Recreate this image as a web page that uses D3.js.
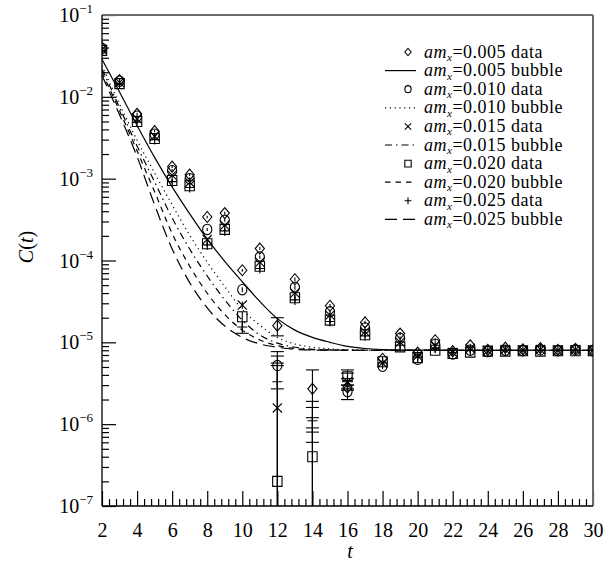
<!DOCTYPE html>
<html><head><meta charset="utf-8">
<script src="https://cdn.jsdelivr.net/npm/d3@7"></script>
<style>
body{margin:0;background:#fff}
svg, svg text{font-family:"Liberation Serif","Times New Roman",Times,serif;}
text{fill:#000}
</style>
</head><body>
<svg id="c" width="613" height="562"></svg>
<script>
// ---------- DATA ----------
const tData = [2,3,4,5,6,7,8,9,10,11,12,13,14,15,16,17,18,19,20,21,22,23,24,25,26,27,28,29,30];
const amLabels = ["0.005","0.010","0.015","0.020","0.025"];

const data005 = [4.0e-2,1.60e-2,6.2e-3,3.8e-3,1.40e-3,1.12e-3,3.4e-4,3.8e-4,7.6e-5,1.40e-4,1.6e-5,5.9e-5,2.7e-6,2.8e-5,2.8e-6,1.75e-5,6.3e-6,1.28e-5,7.5e-6,1.06e-5,7.8e-6,9.2e-6,8.1e-6,8.6e-6,8.2e-6,8.5e-6,8.1e-6,8.3e-6,8.0e-6];
const err005  = [1.2e-3,5e-4,2e-4,1.2e-4,5e-5,4e-5,1.2e-5,1.4e-5,3e-6,6e-6,4e-6,3e-6,1.9e-6,1.5e-6,8e-7,8e-7,4e-7,6e-7,4e-7,5e-7,3e-7,4e-7,3e-7,3e-7,2e-7,2e-7,2e-7,2e-7,2e-7];
const data010 = [3.9e-2,1.55e-2,5.8e-3,3.5e-3,1.25e-3,1.00e-3,2.4e-4,3.1e-4,4.4e-5,1.10e-4,5.2e-6,4.7e-5,-5e-7,2.36e-5,2.5e-6,1.5e-5,5.1e-6,1.12e-5,6.2e-6,9.5e-6,7.2e-6,8.0e-6,7.7e-6,8.0e-6,7.9e-6,8.1e-6,7.9e-6,8.1e-6,7.9e-6];
const err010  = [1.2e-3,5e-4,2e-4,1.2e-4,5e-5,4e-5,1e-5,1.2e-5,3e-6,5e-6,2.5e-6,3e-6,1.7e-6,1.5e-6,5e-7,8e-7,4e-7,6e-7,4e-7,5e-7,3e-7,4e-7,3e-7,3e-7,2e-7,2e-7,2e-7,2e-7,2e-7];
const data015 = [3.8e-2,1.50e-2,5.4e-3,3.3e-3,1.10e-3,9.0e-4,1.8e-4,2.7e-4,2.85e-5,9.5e-5,1.58e-6,4.0e-5,-3e-7,2.15e-5,3.3e-6,1.35e-5,5.6e-6,1.0e-5,6.8e-6,9.0e-6,7.5e-6,8.4e-6,7.9e-6,8.2e-6,8.0e-6,8.2e-6,8.0e-6,8.1e-6,8.0e-6];
const err015  = [1.2e-3,5e-4,2e-4,1.2e-4,5e-5,4e-5,1e-5,1.2e-5,3e-6,5e-6,4e-6,3e-6,1.2e-6,1.5e-6,6e-7,8e-7,4e-7,6e-7,4e-7,5e-7,3e-7,4e-7,3e-7,3e-7,2e-7,2e-7,2e-7,2e-7,2e-7];
const data020 = [3.7e-2,1.45e-2,5.0e-3,3.1e-3,9.5e-4,8.2e-4,1.6e-4,2.4e-4,2.05e-5,8.5e-5,2.0e-7,3.5e-5,4.0e-7,1.87e-5,3.8e-6,1.24e-5,5.8e-6,8.8e-6,6.5e-6,8.0e-6,7.3e-6,7.6e-6,7.8e-6,7.8e-6,7.9e-6,7.8e-6,7.9e-6,7.9e-6,7.9e-6];
const err020  = [1.2e-3,5e-4,2e-4,1.2e-4,5e-5,4e-5,1e-5,1.2e-5,3e-6,5e-6,5e-6,3e-6,1.5e-6,1.5e-6,8e-7,8e-7,4e-7,6e-7,4e-7,5e-7,3e-7,4e-7,3e-7,3e-7,2e-7,2e-7,2e-7,2e-7,2e-7];
const data025 = [3.7e-2,1.45e-2,4.9e-3,3.0e-3,9.2e-4,7.8e-4,1.55e-4,2.3e-4,1.54e-5,8.0e-5,3.3e-6,3.3e-5,1.1e-6,1.8e-5,3.4e-6,1.2e-5,5.6e-6,9.2e-6,6.6e-6,8.5e-6,7.5e-6,8.0e-6,7.9e-6,8.0e-6,8.0e-6,8.0e-6,8.0e-6,8.0e-6,8.0e-6];
const err025  = [1.2e-3,5e-4,2e-4,1.2e-4,5e-5,4e-5,1e-5,1.2e-5,2.5e-6,5e-6,3.5e-6,3e-6,5e-7,1.5e-6,8e-7,8e-7,4e-7,6e-7,4e-7,5e-7,3e-7,4e-7,3e-7,3e-7,2e-7,2e-7,2e-7,2e-7,2e-7];

const bubble005 = [2.88e-2,1.148e-2,4.47e-3,1.82e-3,7.94e-4,3.72e-4,1.82e-4,9.77e-5,5.50e-5,3.16e-5,1.95e-5,1.41e-5,1.15e-5,1.0e-5,8.91e-6,8.41e-6,8.17e-6,8.05e-6,8.02e-6,8.01e-6,8.0e-6,8.0e-6,8.0e-6,8.0e-6,8.0e-6,8.0e-6,8.0e-6,8.0e-6,8.0e-6];
const bubble010 = [2.40e-2,8.13e-3,2.95e-3,1.175e-3,4.79e-4,2.04e-4,9.55e-5,4.79e-5,2.51e-5,1.62e-5,1.15e-5,9.55e-6,8.71e-6,8.32e-6,8.13e-6,8.04e-6,8.01e-6,8.0e-6,8.0e-6,8.0e-6,8.0e-6,8.0e-6,8.0e-6,8.0e-6,8.0e-6,8.0e-6,8.0e-6,8.0e-6,8.0e-6];
const bubble015 = [2.19e-2,7.41e-3,2.51e-3,9.12e-4,3.31e-4,1.38e-4,6.46e-5,3.31e-5,1.86e-5,1.23e-5,9.77e-6,8.71e-6,8.22e-6,8.07e-6,8.02e-6,8.0e-6,8.0e-6,8.0e-6,8.0e-6,8.0e-6,8.0e-6,8.0e-6,8.0e-6,8.0e-6,8.0e-6,8.0e-6,8.0e-6,8.0e-6,8.0e-6];
const bubble020 = [2.00e-2,6.76e-3,2.19e-3,6.92e-4,2.14e-4,8.51e-5,3.98e-5,2.19e-5,1.41e-5,1.07e-5,9.12e-6,8.41e-6,8.13e-6,8.03e-6,8.0e-6,8.0e-6,8.0e-6,8.0e-6,8.0e-6,8.0e-6,8.0e-6,8.0e-6,8.0e-6,8.0e-6,8.0e-6,8.0e-6,8.0e-6,8.0e-6,8.0e-6];
const bubble025 = [1.82e-2,6.03e-3,1.86e-3,4.79e-4,1.38e-4,5.37e-5,2.63e-5,1.58e-5,1.15e-5,9.55e-6,8.71e-6,8.22e-6,8.07e-6,8.02e-6,8.0e-6,8.0e-6,8.0e-6,8.0e-6,8.0e-6,8.0e-6,8.0e-6,8.0e-6,8.0e-6,8.0e-6,8.0e-6,8.0e-6,8.0e-6,8.0e-6,8.0e-6];

const xTickValues = [2,4,6,8,10,12,14,16,18,20,22,24,26,28,30];
const xTickLabels = ["2","4","6","8","10","12","14","16","18","20","22","24","26","28","30"];
const yTickExponents = [-7,-6,-5,-4,-3,-2,-1];

// ---------- SETUP ----------
const FONT = "'Liberation Serif','Times New Roman',Times,serif";
const svg = d3.select("#c");
const L=102, R=593, T=15, B=506;
const x = d3.scaleLinear().domain([2,30]).range([L,R]);
const y = d3.scaleLog().domain([1e-7,1e-1]).range([B,T]);

svg.append("defs").append("clipPath").attr("id","pc")
  .append("rect").attr("x",L).attr("y",T).attr("width",R-L).attr("height",B-T);

const series = [
  {name:amLabels[0], vals:data005, errs:err005, curve:bubble005, marker:"diamond", dash:null},
  {name:amLabels[1], vals:data010, errs:err010, curve:bubble010, marker:"circle",  dash:"1.2,3.6"},
  {name:amLabels[2], vals:data015, errs:err015, curve:bubble015, marker:"cross",   dash:"7,4,1.5,4"},
  {name:amLabels[3], vals:data020, errs:err020, curve:bubble020, marker:"square",  dash:"5.5,5"},
  {name:amLabels[4], vals:data025, errs:err025, curve:bubble025, marker:"plus",    dash:"12,6"}
];

function markerPath(type, cx, cy, s){
  const p = d3.path();
  if(type==="diamond"){ p.moveTo(cx,cy-5.5*s); p.lineTo(cx+4.6*s,cy); p.lineTo(cx,cy+5.5*s); p.lineTo(cx-4.6*s,cy); p.closePath(); }
  else if(type==="circle"){
    const rx=4.6*s, ry=5.2*s;
    return `M${cx-rx},${cy}a${rx},${ry} 0 1,0 ${2*rx},0a${rx},${ry} 0 1,0 ${-2*rx},0Z`;
  }
  else if(type==="cross"){ const h=4.6*s; p.moveTo(cx-h,cy-h); p.lineTo(cx+h,cy+h); p.moveTo(cx+h,cy-h); p.lineTo(cx-h,cy+h); }
  else if(type==="square"){ const w=4.7*s, h=5*s; p.rect(cx-w,cy-h,2*w,2*h); }
  else if(type==="plus"){ const h=5*s; p.moveTo(cx-h,cy); p.lineTo(cx+h,cy); p.moveTo(cx,cy-h); p.lineTo(cx,cy+h); }
  return p.toString();
}

// ---------- AXES ----------
const yMinor = [];
yTickExponents.slice(0,-1).forEach(e=>{ for(let k=2;k<=9;k++) yMinor.push(k*Math.pow(10,e)); });
const yMajor = yTickExponents.map(e=>Math.pow(10,e));

const gy1 = svg.append("g").attr("transform",`translate(${L},0)`)
  .call(d3.axisLeft(y).tickValues(yMinor).tickSize(-7).tickSizeOuter(0).tickFormat(""));
gy1.select(".domain").remove();
const gy2 = svg.append("g").attr("transform",`translate(${L},0)`)
  .call(d3.axisLeft(y).tickValues(yMajor).tickSize(-14).tickSizeOuter(0).tickFormat(""));
gy2.select(".domain").remove();

const xMinor = d3.range(2,30.001,0.4).map(v=>+v.toFixed(2)).filter(v=>Math.abs(v/2-Math.round(v/2))>1e-6);
const gx1 = svg.append("g").attr("transform",`translate(0,${B})`)
  .call(d3.axisBottom(x).tickValues(xMinor).tickSize(-7).tickSizeOuter(0).tickFormat(""));
gx1.select(".domain").remove();
const gx2 = svg.append("g").attr("transform",`translate(0,${B})`)
  .call(d3.axisBottom(x).tickValues(xTickValues).tickSize(-15).tickSizeOuter(0)
    .tickFormat((d,i)=>xTickLabels[i]).tickPadding(17));
gx2.select(".domain").remove();
gx2.attr("font-family",null).attr("font-size",null);
gx2.selectAll("text").style("font-family",FONT).style("font-size","20px").attr("fill","#000");
svg.selectAll(".tick line").attr("stroke","#000").attr("stroke-width",1.2);

// y labels
yTickExponents.forEach((e,i)=>{
  const t = svg.append("text").attr("x",93).attr("y",y(yMajor[i])+7)
    .attr("text-anchor","end").style("font-family",FONT).style("font-size","20px");
  t.append("tspan").text("10");
  t.append("tspan").style("font-size","13px").attr("dy",-9).text("\u2212"+Math.abs(e));
});

// frame
svg.append("line").attr("x1",L).attr("x2",R).attr("y1",T).attr("y2",T).attr("stroke","#6b6b6b").attr("stroke-width",2);
svg.append("line").attr("x1",R).attr("x2",R).attr("y1",T).attr("y2",B).attr("stroke","#6b6b6b").attr("stroke-width",2);
svg.append("line").attr("x1",L).attr("x2",L).attr("y1",T).attr("y2",B).attr("stroke","#000").attr("stroke-width",1.3);
svg.append("line").attr("x1",L).attr("x2",R).attr("y1",B).attr("y2",B).attr("stroke","#000").attr("stroke-width",1.3);

// axis titles
svg.append("text").attr("x",350).attr("y",558).attr("text-anchor","middle")
  .style("font-family",FONT).style("font-size","20px").style("font-style","italic").text("t");
const yt = svg.append("text").attr("transform","translate(33,247) rotate(-90)").attr("text-anchor","middle")
  .style("font-family",FONT).style("font-size","20px");
yt.append("tspan").style("font-style","italic").text("C");
yt.append("tspan").text("(");
yt.append("tspan").style("font-style","italic").text("t");
yt.append("tspan").text(")");

// ---------- PLOT ----------
const plot = svg.append("g").attr("clip-path","url(#pc)");
const line = d3.line().x((d,i)=>x(tData[i])).y(d=>y(d)).curve(d3.curveMonotoneX);
series.forEach(s=>{
  plot.append("path").attr("d",line(s.curve)).attr("fill","none").attr("stroke","#000")
    .attr("stroke-width",1.2).attr("stroke-dasharray",s.dash);
});

const yClip = v => v<=1e-7 ? B+5 : y(v);
series.forEach(s=>{
  const g = plot.append("g");
  s.vals.forEach((v,i)=>{
    const cx = x(tData[i]);
    const hi = v + s.errs[i], lo = v - s.errs[i];
    const y1 = yClip(hi), y2 = yClip(lo);
    g.append("line").attr("x1",cx).attr("x2",cx).attr("y1",y1).attr("y2",y2)
      .attr("stroke","#000").attr("stroke-width",1.1);
    const yc = v>0 ? y(v) : null;
    [[hi,y1],[lo,y2]].forEach(([val,yy])=>{
      if(val<=1e-7) return;
      if(yc!==null && Math.abs(yy-yc)<6) return;
      g.append("line").attr("x1",cx-6.5).attr("x2",cx+6.5).attr("y1",yy).attr("y2",yy)
        .attr("stroke","#000").attr("stroke-width",1.1);
    });
    if(v>0){
      g.append("path").attr("d",markerPath(s.marker,cx,y(v),1)).attr("fill","none")
        .attr("stroke","#000").attr("stroke-width",1.1);
    }
  });
});

// ---------- LEGEND ----------
const lg = svg.append("g");
let row = 0;
series.forEach(s=>{
  ["data","bubble"].forEach(kind=>{
    const cy = 52 + row*18.6;
    if(kind==="data"){
      lg.append("path").attr("d",markerPath(s.marker,408,cy,0.68)).attr("fill","none")
        .attr("stroke","#000").attr("stroke-width",1.1);
    } else {
      lg.append("line").attr("x1",385).attr("x2",416).attr("y1",cy).attr("y2",cy)
        .attr("stroke","#000").attr("stroke-width",1.2).attr("stroke-dasharray",s.dash);
    }
    const t = lg.append("text").attr("x",424).attr("y",cy+5.5)
      .style("font-family",FONT).style("font-size","18px").style("letter-spacing","0.5px");
    t.append("tspan").style("font-style","italic").text("am");
    t.append("tspan").style("font-style","italic").style("font-size","11px").attr("dy",3.5).text("x");
    t.append("tspan").attr("dy",-3.5).text("=" + s.name + " " + kind);
    row++;
  });
});
</script>
</body></html>
